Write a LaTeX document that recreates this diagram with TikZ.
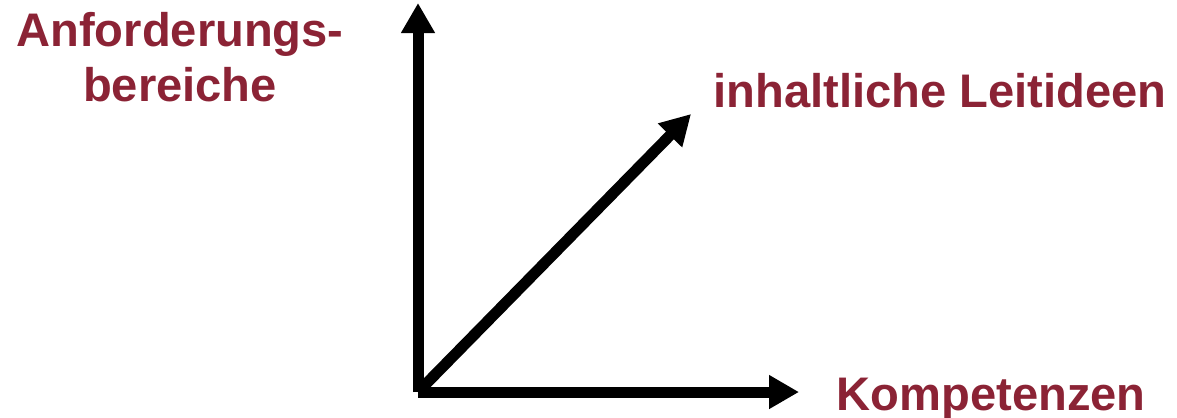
\documentclass[tikz,border=0pt]{standalone}
\usepackage{fontspec}
\setmainfont{Liberation Sans}
\usetikzlibrary{arrows.meta, positioning}
\definecolor{labelred}{HTML}{8B2335}

\begin{document}
\begin{tikzpicture}[x=0.01cm, y=-0.01cm,
	axis/.style={line width=0.11cm, -{Triangle[length=0.3cm, width=0.32cm]}},
	axislabel/.style={text=labelred, font=\fontsize{13.4pt}{15.6pt}\selectfont\bfseries, inner sep=0pt}]
	\useasboundingbox (0, 0) rectangle (1177, 417);
	% Axes:
	\coordinate (origin) at (418, 392);
	\coordinate (top) at (418, 3);
	\coordinate (right) at (799, 392);
	\coordinate (diag) at (691, 114);
	\draw[axis] (origin) -- (top);
	\draw[axis] (origin) -- (right);
	\draw[axis] (origin) -- (diag);
	% Labels:
	\node[axislabel, align=center, anchor=base] (anf) at (180, 101) {Anforderungs-\\bereiche};
	\node[axislabel, anchor=base west] (inh) at (713, 107) {inhaltliche Leitideen};
	\node[axislabel, anchor=base west] (komp) at (836, 410) {Kompetenzen};
\end{tikzpicture}
\end{document}
